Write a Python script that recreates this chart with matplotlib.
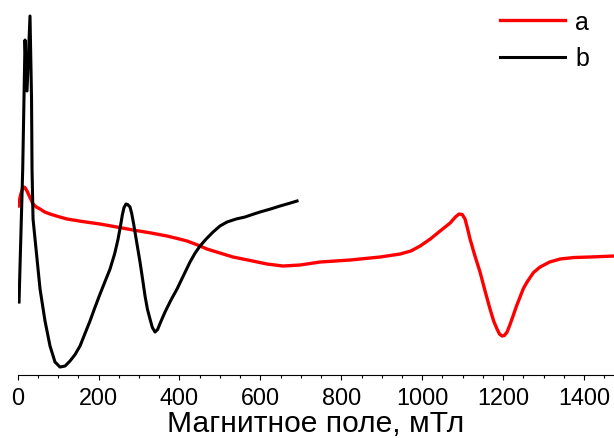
import matplotlib.pyplot as plt
from matplotlib.ticker import MultipleLocator

plt.rcParams['font.family'] = ['Liberation Sans', 'DejaVu Sans']

# spectrum a (red): field, mT / intensity, arb. units
field_a = [1.7, 7.0, 13.3, 18.0, 23.2, 30.0, 38.1, 46.0, 55.4, 67.0,
           80.1, 100.0, 122.1, 160.0, 203.7, 245.0, 285.5, 330.0, 369.3, 395.0,
           418.7, 445.0, 468.1, 500.0, 532.4, 575.0, 616.4, 656.0, 698.0, 747.5,
           821.7, 895.9, 945.3, 972.0, 994.8, 1020.0, 1044.2, 1069.0, 1082.0, 1091.0,
           1099.0, 1105.8, 1112.0, 1118.2, 1130.0, 1142.9, 1155.0, 1167.6, 1177.0, 1184.9,
           1191.0, 1197.3, 1203.0, 1209.7, 1217.0, 1224.5, 1233.0, 1241.8, 1250.0, 1259.1,
           1275.0, 1291.3, 1315.0, 1340.7, 1375.0, 1414.9, 1474.1]
signal_a = [1.685, 1.79, 1.875, 1.87, 1.835, 1.775, 1.705, 1.675, 1.655, 1.625,
            1.605, 1.58, 1.555, 1.53, 1.505, 1.475, 1.445, 1.415, 1.385, 1.36,
            1.335, 1.295, 1.255, 1.215, 1.175, 1.14, 1.105, 1.085, 1.095, 1.125,
            1.145, 1.175, 1.205, 1.235, 1.285, 1.355, 1.435, 1.515, 1.575, 1.605,
            1.6, 1.555, 1.46, 1.355, 1.19, 1.025, 0.84, 0.655, 0.53, 0.455,
            0.405, 0.385, 0.39, 0.425, 0.5, 0.585, 0.685, 0.775, 0.86, 0.925,
            1.02, 1.075, 1.125, 1.155, 1.17, 1.175, 1.185]

# spectrum b (black)
field_b = [3.5, 12.6, 18.3, 23.2, 30.6, 34.4, 35.6, 38.1, 45.5, 55.4,
           67.7, 80.1, 92.4, 104.8, 117.2, 129.5, 142.0, 154.2, 166.0, 178.9,
           191.0, 203.7, 216.0, 228.4, 240.0, 248.0, 254.0, 259.0, 263.0, 267.9,
           272.0, 277.8, 282.0, 287.0, 294.0, 302.5, 309.0, 314.9, 321.0, 327.2,
           333.0, 339.6, 346.0, 353.0, 364.3, 379.0, 394.0, 410.0, 426.1, 438.0,
           450.8, 466.0, 483.0, 500.0, 517.6, 540.0, 562.0, 580.0, 599.1, 625.0,
           648.5, 670.0, 690.6]
signal_b = [0.725, 2.055, 3.345, 2.835, 3.585, 2.755, 2.055, 1.555, 1.255, 0.855,
            0.535, 0.285, 0.125, 0.075, 0.085, 0.135, 0.2, 0.285, 0.405, 0.535,
            0.67, 0.805, 0.93, 1.055, 1.21, 1.35, 1.48, 1.6, 1.67, 1.705,
            1.7, 1.675, 1.61, 1.5, 1.33, 1.125, 0.95, 0.785, 0.65, 0.555,
            0.47, 0.425, 0.45, 0.52, 0.625, 0.745, 0.855, 0.99, 1.125, 1.21,
            1.285, 1.355, 1.425, 1.485, 1.525, 1.555, 1.575, 1.6, 1.625, 1.655,
            1.685, 1.71, 1.735]

fig = plt.figure(figsize=(6.14, 4.39), dpi=100)
ax = fig.add_axes([0.0287, 0.1446, 0.9713, 0.8554])

ax.plot(field_a, signal_a, color='#ff0000', lw=2.4, label='a')
ax.plot(field_b, signal_b, color='black', lw=2.2, label='b')

ax.set_xlim(0, 1474)
ax.set_ylim(0, 3.755)
ax.xaxis.set_major_locator(MultipleLocator(200))
ax.xaxis.set_minor_locator(MultipleLocator(50))
ax.tick_params(axis='x', which='major', length=3.5, width=0.8, labelsize=16.8, pad=5)
ax.tick_params(axis='x', which='minor', length=2.2, width=0.8)
ax.set_yticks([])
for side in ['left', 'right', 'top']:
    ax.spines[side].set_visible(False)
ax.spines['bottom'].set_linewidth(0.8)

ax.set_xlabel('Магнитное поле, мТл', fontsize=21.6, labelpad=0)

ax.legend(loc='upper right', bbox_to_anchor=(589 / 614, 1 - 11 / 439),
          bbox_transform=fig.transFigure, frameon=False, fontsize=18,
          handlelength=2.6, handletextpad=0.4, labelspacing=0.5,
          borderaxespad=0, borderpad=0)

fig.savefig('out.png', dpi=100)
